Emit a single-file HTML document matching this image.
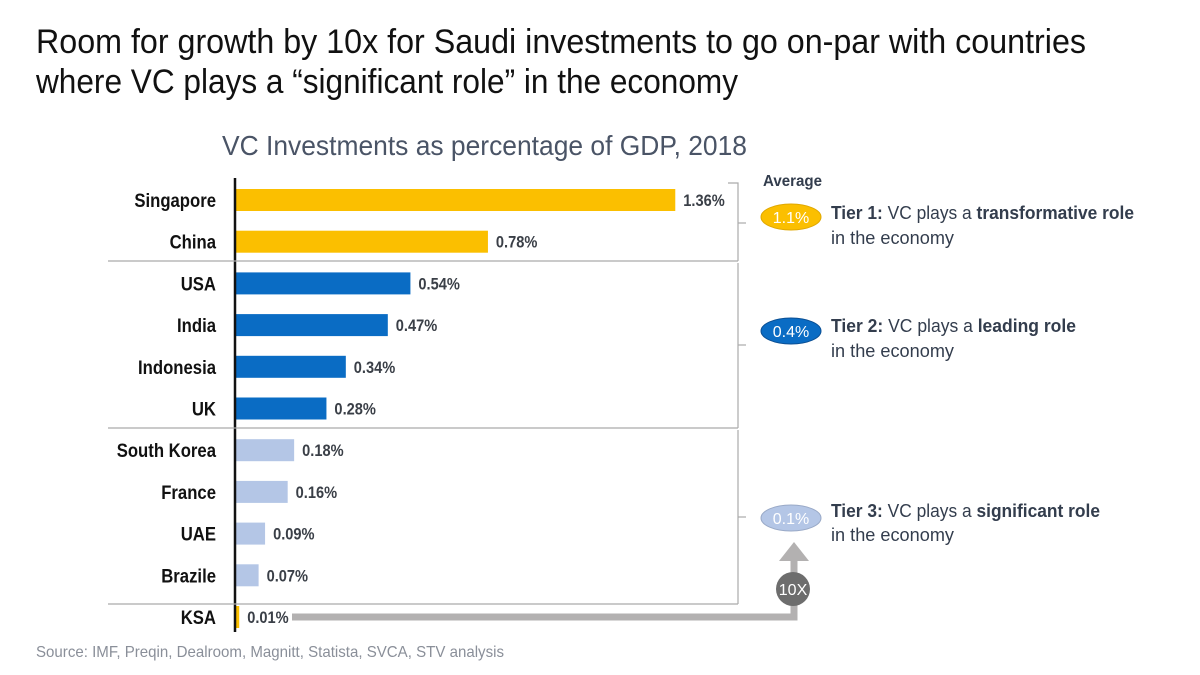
<!DOCTYPE html>
<html><head><meta charset="utf-8"><style>
html,body{margin:0;padding:0;background:#fff;}
svg{display:block;font-family:"Liberation Sans",sans-serif;}
</style></head><body>
<svg id="c" width="1200" height="675" viewBox="0 0 1200 675">
<text x="36" y="53" font-size="34" fill="#111" textLength="1050" lengthAdjust="spacingAndGlyphs">Room for growth by 10x for Saudi investments to go on-par with countries</text>
<text x="36" y="93" font-size="34" fill="#111" textLength="702" lengthAdjust="spacingAndGlyphs">where VC plays a “significant role” in the economy</text>
<text x="222" y="155" font-size="28" fill="#4a5466" textLength="525" lengthAdjust="spacingAndGlyphs">VC Investments as percentage of GDP, 2018</text>
<g id="bars"></g>
<line x1="235" y1="178" x2="235" y2="632" stroke="#111" stroke-width="2.5"/>
<g stroke="#aaa" stroke-width="1.2" fill="none">
<line x1="108" y1="261" x2="738" y2="261"/>
<line x1="108" y1="428" x2="738" y2="428"/>
<line x1="108" y1="604" x2="738" y2="604"/>
<polyline points="728,183 738,183 738,261"/>
<line x1="738" y1="223" x2="746" y2="223"/>
<polyline points="738,263 738,428"/>
<line x1="738" y1="345" x2="746" y2="345"/>
<polyline points="738,430 738,604"/>
<line x1="738" y1="517" x2="746" y2="517"/>
</g>
<text x="763" y="186" font-size="16" font-weight="bold" fill="#333d4d" textLength="59" lengthAdjust="spacingAndGlyphs">Average</text>
<g>
<ellipse cx="791" cy="217" rx="30" ry="13" fill="#fbbf00" stroke="#e0a800"/>
<text x="791" y="223" font-size="16" fill="#fff" text-anchor="middle">1.1%</text>
<text x="831" y="219" font-size="18" fill="#333d4d" textLength="303" lengthAdjust="spacingAndGlyphs"><tspan font-weight="bold">Tier 1:</tspan> VC plays a <tspan font-weight="bold">transformative role</tspan></text>
<text x="831" y="244" font-size="18" fill="#333d4d" textLength="123" lengthAdjust="spacingAndGlyphs">in the economy</text>
</g>
<g>
<ellipse cx="791" cy="331" rx="30" ry="13" fill="#0a6cc4" stroke="#0a4f94"/>
<text x="791" y="337" font-size="16" fill="#fff" text-anchor="middle">0.4%</text>
<text x="831" y="332" font-size="18" fill="#333d4d" textLength="245" lengthAdjust="spacingAndGlyphs"><tspan font-weight="bold">Tier 2:</tspan> VC plays a <tspan font-weight="bold">leading role</tspan></text>
<text x="831" y="357" font-size="18" fill="#333d4d" textLength="123" lengthAdjust="spacingAndGlyphs">in the economy</text>
</g>
<g>
<ellipse cx="791" cy="518" rx="30" ry="13" fill="#b4c6e6" stroke="#99a9c7"/>
<text x="791" y="524" font-size="16" fill="#fff" text-anchor="middle">0.1%</text>
<text x="831" y="517" font-size="18" fill="#333d4d" textLength="269" lengthAdjust="spacingAndGlyphs"><tspan font-weight="bold">Tier 3:</tspan> VC plays a <tspan font-weight="bold">significant role</tspan></text>
<text x="831" y="541" font-size="18" fill="#333d4d" textLength="123" lengthAdjust="spacingAndGlyphs">in the economy</text>
</g>
<g>
<polyline points="292,617 794,617 794,560" fill="none" stroke="#b3b1b1" stroke-width="7"/>
<polygon points="779,561 809,561 794,542" fill="#b3b1b1"/>
<circle cx="793" cy="589" r="17" fill="#6d6d6d"/>
<text x="793" y="595" font-size="16" fill="#fff" text-anchor="middle">10X</text>
</g>
<text x="36" y="657" font-size="16" fill="#8a8f99" textLength="468" lengthAdjust="spacingAndGlyphs">Source: IMF, Preqin, Dealroom, Magnitt, Statista, SVCA, STV analysis</text>
</svg>
<script>
const countries = ["Singapore","China","USA","India","Indonesia","UK","South Korea","France","UAE","Brazile","KSA"];
const values = [1.36,0.78,0.54,0.47,0.34,0.28,0.18,0.16,0.09,0.07,0.01];
const valueLabels = ["1.36%","0.78%","0.54%","0.47%","0.34%","0.28%","0.18%","0.16%","0.09%","0.07%","0.01%"];
const tiers = [1,1,2,2,2,2,3,3,3,3,0];
const NS = "http://www.w3.org/2000/svg";
const x0 = 236, pxPerUnit = 323;
const xScale = v => x0 + v * pxPerUnit;
const yScale = i => 200 + i * 41.7;
const barH = 22;
const colors = {1:"#fbbf00",2:"#0a6cc4",3:"#b4c6e6",0:"#fbbf00"};
const g = document.getElementById("bars");
countries.forEach((c, i) => {
  const y = yScale(i);
  const r = document.createElementNS(NS, "rect");
  r.setAttribute("x", x0);
  r.setAttribute("y", y - barH / 2);
  r.setAttribute("width", Math.max(1, xScale(values[i]) - x0));
  r.setAttribute("height", barH);
  r.setAttribute("fill", colors[tiers[i]]);
  
  
  g.appendChild(r);
  const l = document.createElementNS(NS, "text");
  const ly = y + 7;
  l.setAttribute("x", 216);
  l.setAttribute("y", ly);
  l.setAttribute("text-anchor", "end");
  l.setAttribute("font-size", "19");
  l.setAttribute("font-weight", "bold");
  l.setAttribute("fill", "#111");
  l.setAttribute("transform", "translate(216," + ly + ") scale(0.88,1) translate(-216," + (-ly) + ")");
  l.textContent = c;
  
  
  g.appendChild(l);
  const v = document.createElementNS(NS, "text");
  const vx = xScale(values[i]) + 8;
  const vy = y + 6;
  v.setAttribute("x", vx);
  v.setAttribute("y", vy);
  v.setAttribute("font-size", "17");
  v.setAttribute("font-weight", "bold");
  v.setAttribute("fill", "#3a3f47");
  v.setAttribute("transform", "translate(" + vx + "," + vy + ") scale(0.86,1) translate(" + (-vx) + "," + (-vy) + ")");
  v.textContent = valueLabels[i];
  
  
  g.appendChild(v);
});
</script>
</body></html>
